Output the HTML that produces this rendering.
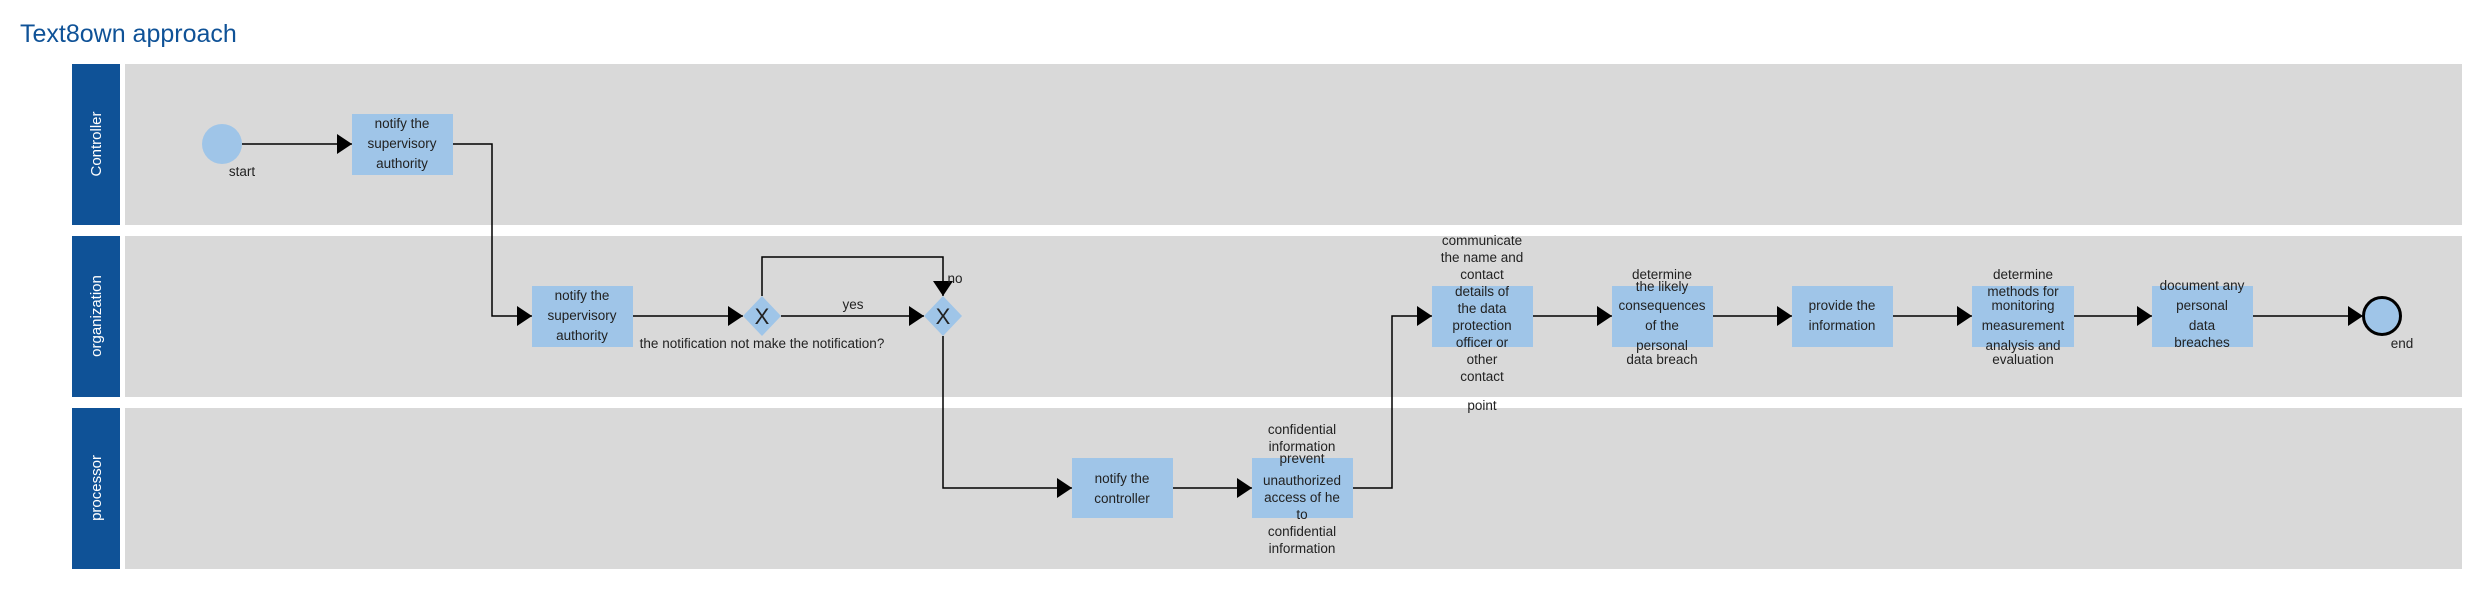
<!DOCTYPE html>
<html><head><meta charset="utf-8"><style>
html,body{margin:0;padding:0;background:#fff;}
svg{display:block;}
text{font-family:"Liberation Sans",Arial,sans-serif;fill:#222;}
</style></head><body>
<svg width="2479" height="610" xmlns="http://www.w3.org/2000/svg">
<defs>
<marker id="a" viewBox="0 0 15 20" refX="15" refY="10" markerWidth="15" markerHeight="20" markerUnits="userSpaceOnUse" orient="auto"><path d="M0,0 L15,10 L0,20 z" fill="#000"/></marker>
</defs>
<text x="20" y="42" font-size="25" style="fill:#0f5297">Text8own approach</text>
<!-- lanes -->
<rect x="72" y="64" width="48" height="161" fill="#0f5297"/>
<rect x="125" y="64" width="2337" height="161" fill="#d9d9d9"/>
<rect x="72" y="236" width="48" height="161" fill="#0f5297"/>
<rect x="125" y="236" width="2337" height="161" fill="#d9d9d9"/>
<rect x="72" y="408" width="48" height="161" fill="#0f5297"/>
<rect x="125" y="408" width="2337" height="161" fill="#d9d9d9"/>
<g font-size="15" text-anchor="middle">
<text transform="translate(101,144) rotate(-90)" style="fill:#fff">Controller</text>
<text transform="translate(101,316) rotate(-90)" style="fill:#fff">organization</text>
<text transform="translate(101,488) rotate(-90)" style="fill:#fff">processor</text>
</g>
<!-- connectors -->
<g stroke="#000" stroke-width="1.5" fill="none">
<path d="M242,144 H352" marker-end="url(#a)"/>
<path d="M453,144 H492 V316 H532" marker-end="url(#a)"/>
<path d="M633,316 H743" marker-end="url(#a)"/>
<path d="M781,316 H924" marker-end="url(#a)"/>
<path d="M762,296 V257 H943 V296" marker-end="url(#a)"/>
<path d="M943,336 V488 H1072" marker-end="url(#a)"/>
<path d="M1173,488 H1252" marker-end="url(#a)"/>
<path d="M1353,488 H1392 V316 H1432" marker-end="url(#a)"/>
<path d="M1533,316 H1612" marker-end="url(#a)"/>
<path d="M1713,316 H1792" marker-end="url(#a)"/>
<path d="M1893,316 H1972" marker-end="url(#a)"/>
<path d="M2074,316 H2152" marker-end="url(#a)"/>
<path d="M2253,316 H2363" marker-end="url(#a)"/>
</g>
<!-- shapes -->
<circle cx="222" cy="144" r="20" fill="#9fc5e8"/>
<circle cx="2382" cy="316" r="18.5" fill="#9fc5e8" stroke="#000" stroke-width="3"/>
<g fill="#9fc5e8">
<rect x="352" y="114" width="101" height="61"/>
<rect x="532" y="286" width="101" height="61"/>
<rect x="1072" y="458" width="101" height="60"/>
<rect x="1252" y="458" width="101" height="60"/>
<rect x="1432" y="286" width="101" height="61"/>
<rect x="1612" y="286" width="101" height="61"/>
<rect x="1792" y="286" width="101" height="61"/>
<rect x="1972" y="286" width="102" height="61"/>
<rect x="2152" y="286" width="101" height="61"/>
<path d="M762,296 L781,316 L762,336 L743,316 z"/>
<path d="M943,296 L962,316 L943,336 L924,316 z"/>
</g>
<g font-size="22" text-anchor="middle">
<text x="762" y="324">X</text>
<text x="943" y="324">X</text>
</g>
<!-- labels -->
<g font-size="13.5" text-anchor="middle">
<text x="242" y="176">start</text>
<text x="2402" y="348">end</text>
<text x="853" y="309">yes</text>
<text x="955" y="283">no</text>
<text x="762" y="348">the notification not make the notification?</text>
<text x="402" y="128">notify the</text><text x="402" y="148">supervisory</text><text x="402" y="168">authority</text>
<text x="582" y="300">notify the</text><text x="582" y="320">supervisory</text><text x="582" y="340">authority</text>
<text x="1122" y="483">notify the</text><text x="1122" y="503">controller</text>
<text x="1302" y="434">confidential</text><text x="1302" y="451">information</text><text x="1302" y="463">prevent</text><text x="1302" y="485">unauthorized</text><text x="1302" y="502">access of he</text><text x="1302" y="519">to</text><text x="1302" y="536">confidential</text><text x="1302" y="553">information</text>
<text x="1482" y="245">communicate</text><text x="1482" y="262">the name and</text><text x="1482" y="279">contact</text><text x="1482" y="296">details of</text><text x="1482" y="313">the data</text><text x="1482" y="330">protection</text><text x="1482" y="347">officer or</text><text x="1482" y="364">other</text><text x="1482" y="381">contact</text><text x="1482" y="410">point</text>
<text x="1662" y="279">determine</text><text x="1662" y="291">the likely</text><text x="1662" y="310">consequences</text><text x="1662" y="330">of the</text><text x="1662" y="350">personal</text><text x="1662" y="364">data breach</text>
<text x="1842" y="310">provide the</text><text x="1842" y="330">information</text>
<text x="2023" y="279">determine</text><text x="2023" y="296">methods for</text><text x="2023" y="310">monitoring</text><text x="2023" y="330">measurement</text><text x="2023" y="350">analysis and</text><text x="2023" y="364">evaluation</text>
<text x="2202" y="290">document any</text><text x="2202" y="310">personal</text><text x="2202" y="330">data</text><text x="2202" y="347">breaches</text>
</g>
</svg>
</body></html>
